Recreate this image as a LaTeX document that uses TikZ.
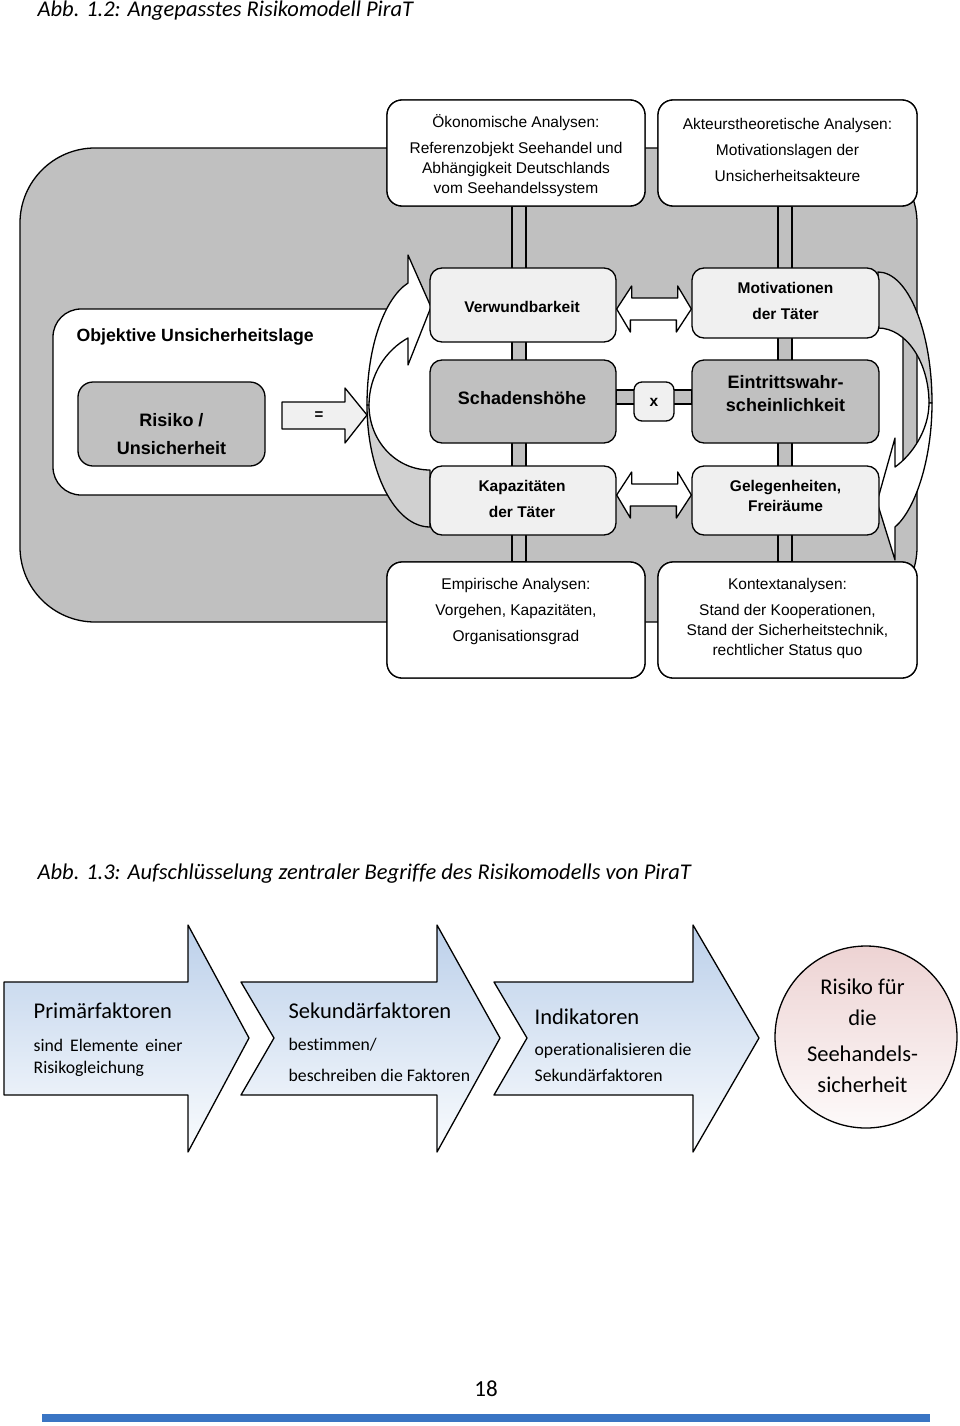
\documentclass[tikz,border=0pt]{standalone}
\usepackage{fontspec}
\setmainfont{Liberation Sans}
\newfontfamily\calfont[Ligatures=NoCommon]{Carlito}
\usetikzlibrary{calc}
\definecolor{bg}{HTML}{C0C0C0}
\definecolor{lightbox}{HTML}{F0F0F0}
\definecolor{shadeg}{HTML}{D0D0D0}
\definecolor{blueT}{HTML}{BCD0EA}
\definecolor{blueB}{HTML}{FAFCFE}
\definecolor{pinkT}{HTML}{EDD3D3}
\definecolor{pinkB}{HTML}{FDFAFA}
\definecolor{barblue}{HTML}{3A75C4}
\begin{document}
\begin{tikzpicture}[x=1pt,y=-1pt,line width=1.3pt,line join=round,
  panel/.style={draw, fill=white, rounded corners=15pt, minimum width=258pt, inner sep=0pt},
  lbox/.style={draw, fill=lightbox, rounded corners=12pt, inner sep=0pt},
  gbox/.style={draw, fill=bg, rounded corners=12pt, inner sep=0pt},
  ptext/.style={font=\fontsize{15.5}{20}\selectfont, align=center, inner sep=0pt},
  btext/.style={font=\bfseries\fontsize{15.5}{26}\selectfont, align=center, inner sep=0pt},
  Btext/.style={font=\bfseries\fontsize{18}{23}\selectfont, align=center, inner sep=0pt},
  bar/.style={draw, fill=bg},
  blockarrow/.style={draw, fill=white},
  flow/.style={draw, top color=blueT, bottom color=blueB},
  ctext/.style={font=\calfont\fontsize{17.7}{24}\selectfont, anchor=west, inner sep=0pt},
  chead/.style={font=\calfont\fontsize{22.5}{27}\selectfont, anchor=west, inner sep=0pt},
  ctitle/.style={font=\calfont\itshape\fontsize{22.5}{27}\selectfont, anchor=west, inner sep=0pt},
]
\useasboundingbox (0,0) rectangle (960,1426);

% ---------- Abb. 1.2 ----------
\node[ctitle] (t1) at (37,11) {Abb. 1.2: Angepasstes Risikomodell PiraT};

% background shapes
\draw[fill=bg, rounded corners=75pt] (20,148) rectangle (917,622);
\draw[fill=white, rounded corners=28pt] (53,309) rectangle (903,495);

% boxes (positions)
\node[panel, minimum width=258pt, minimum height=106pt] (oek) at (516,153) {};
\node[panel, minimum width=259pt, minimum height=106pt] (akt) at (787.5,153) {};
\node[panel, minimum width=258pt, minimum height=116pt] (emp) at (516,620) {};
\node[panel, minimum width=259pt, minimum height=116pt] (kon) at (787.5,620) {};

% connector bars
\draw[bar] ([xshift=-4pt]oek.south) rectangle ([xshift=10pt]emp.north);
\draw[bar] ([xshift=-9.5pt]akt.south) rectangle ([xshift=4.5pt]kon.north);
\draw[bar] (616,390) rectangle (692,404);

% redraw panels on top of bars
\node[panel, minimum width=258pt, minimum height=106pt] at (oek) {};
\node[panel, minimum width=259pt, minimum height=106pt] at (akt) {};
\node[panel, minimum width=258pt, minimum height=116pt] at (emp) {};
\node[panel, minimum width=259pt, minimum height=116pt] at (kon) {};

\node[ptext] (oekT) at (516,156) {Ökonomische Analysen:\\[6pt]Referenzobjekt Seehandel und\\Abhängigkeit Deutschlands\\vom Seehandelssystem};
\node[ptext, font=\fontsize{15.5}{26}\selectfont] (aktT) at (787.5,149.5) {Akteurstheoretische Analysen:\\Motivationslagen der\\Unsicherheitsakteure};
\node[ptext, font=\fontsize{15.5}{26}\selectfont] (empT) at (516,611) {Empirische Analysen:\\Vorgehen, Kapazitäten,\\Organisationsgrad};
\node[ptext] (konT) at (787.5,618) {Kontextanalysen:\\[6pt]Stand der Kooperationen,\\Stand der Sicherheitstechnik,\\rechtlicher Status quo};

\node[font=\bfseries\fontsize{17.7}{22}\selectfont, anchor=west, inner sep=0pt] (obj) at (76,336.5) {Objektive Unsicherheitslage};

% risk box and "=" arrow
\node[gbox, rounded corners=15pt, minimum width=187pt, minimum height=84pt] (risk) at (171.5,424) {};
\node[Btext, font=\bfseries\fontsize{18}{28}\selectfont] (riskT) at (171.5,434) {Risiko /\\Unsicherheit};
\draw[fill=lightbox] (282,402) -- (345,402) -- (345,388) -- (367,415) -- (345,443) -- (345,429) -- (282,429) -- cycle;
\node[font=\bfseries\fontsize{15}{18}\selectfont, inner sep=0pt] (eq) at (319,416) {=};

% left curved arrow
\draw[fill=shadeg] (367,405) .. controls (367,472) and (395,527) .. (430,527) -- (430,470)
   .. controls (396,470) and (369,441) .. (369,405) -- cycle;
\draw[fill=white] (367,405) .. controls (367,345) and (385,298) .. (408,283) -- (408,255) -- (431,307)
   -- (408,365) -- (408,338) .. controls (386,350) and (369,375) .. (369,405) -- cycle;

% right curved arrow
\draw[fill=shadeg] (878,272) .. controls (908,272) and (932,331) .. (932,403) -- (929,403)
   .. controls (929,362) and (906,328) .. (878,328) -- cycle;
\draw[fill=white] (932,403) .. controls (932,460) and (915,510) .. (895,527) -- (895,560) -- (877,502)
   -- (895,438) -- (895,467) .. controls (912,455) and (929,430) .. (929,403) -- cycle;

% middle boxes
\node[lbox, minimum width=186pt, minimum height=74pt] (verw) at (523,305) {};
\node[gbox, minimum width=186pt, minimum height=83pt] (schad) at (523,401.5) {};
\node[lbox, minimum width=186pt, minimum height=69pt] (kap) at (523,500.5) {};
\node[lbox, minimum width=187pt, minimum height=70pt] (mot) at (785.5,303) {};
\node[gbox, minimum width=187pt, minimum height=83pt] (ein) at (785.5,401.5) {};
\node[lbox, minimum width=187pt, minimum height=69pt] (gel) at (785.5,500.5) {};
\node[lbox, rounded corners=8pt, minimum width=40pt, minimum height=39pt] (xb) at (654,401.5) {};

\node[btext] (verwT) at (522,307) {Verwundbarkeit};
\node[Btext] (schadT) at (522,398) {Schadenshöhe};
\node[btext] (kapT) at (522,499) {Kapazitäten\\der Täter};
\node[btext] (motT) at (785.5,301) {Motivationen\\der Täter};
\node[Btext] (einT) at (785.5,393.5) {Eintrittswahr-\\scheinlichkeit};
\node[btext, font=\bfseries\fontsize{15.5}{20}\selectfont] (gelT) at (785.5,496) {Gelegenheiten,\\Freiräume};
\node[btext] (xT) at (654,402) {x};

% double arrows
\draw[blockarrow] ($(verw.east)+(0,4)$) -- ++(15,-23) -- ++(0,12) -- ++(46,0) -- ++(0,-12)
   -- ($(mot.west)+(0,6)$) -- ++(-15,23) -- ++(0,-12) -- ++(-46,0) -- ++(0,12) -- cycle;
\draw[blockarrow] ($(kap.east)+(0,-5.5)$) -- ++(15,-23) -- ++(0,12) -- ++(46,0) -- ++(0,-12)
   -- ($(gel.west)+(0,-5.5)$) -- ++(-15,23) -- ++(0,-12) -- ++(-46,0) -- ++(0,12) -- cycle;

% ---------- Abb. 1.3 ----------
\node[ctitle] (t2) at (37,874) {Abb. 1.3: Aufschlüsselung zentraler Begriffe des Risikomodells von PiraT};

\draw[flow] (4,982) -- (188,982) -- (188,925) -- (249,1038) -- (188,1152) -- (188,1095) -- (4,1095) -- cycle;
\draw[flow] (241,982) -- (437,982) -- (437,925) -- (500,1038) -- (437,1152) -- (437,1095) -- (241,1095) -- (274,1038) -- cycle;
\draw[flow] (494,982) -- (693,982) -- (693,925) -- (759,1038) -- (693,1152) -- (693,1095) -- (494,1095) -- (527,1038) -- cycle;
\node[draw, circle, minimum size=182pt, inner sep=0pt, top color=pinkT, bottom color=pinkB] (rk) at (866,1037) {};

\node[chead] (p1) at (33,1011) {Primärfaktoren};
\node[ctext] (p2) at (33,1045) {sind\hspace{7pt}Elemente\hspace{7pt}einer};
\node[ctext] (p3) at (33,1069) {Risikogleichung};
\node[chead] (s1) at (288,1011) {Sekundärfaktoren};
\node[ctext] (s2) at (288,1045) {bestimmen/};
\node[ctext] (s3) at (288,1075) {beschreiben die Faktoren};
\node[chead] (i1) at (534,1017) {Indikatoren};
\node[ctext] (i2) at (534,1051) {operationalisieren die};
\node[ctext] (i3) at (534,1075) {Sekundärfaktoren};
\node[font=\calfont\fontsize{22.5}{31}\selectfont, align=center, inner sep=0pt] (rkT) at (862.5,1036)
  {Risiko für\\die\\[5pt]Seehandels-\\sicherheit};

% page footer
\node[font=\calfont\fontsize{23}{26}\selectfont, inner sep=0pt] (pg) at (486,1389) {18};
\fill[barblue] (42,1414) rectangle (930,1422);
\end{tikzpicture}
\end{document}
